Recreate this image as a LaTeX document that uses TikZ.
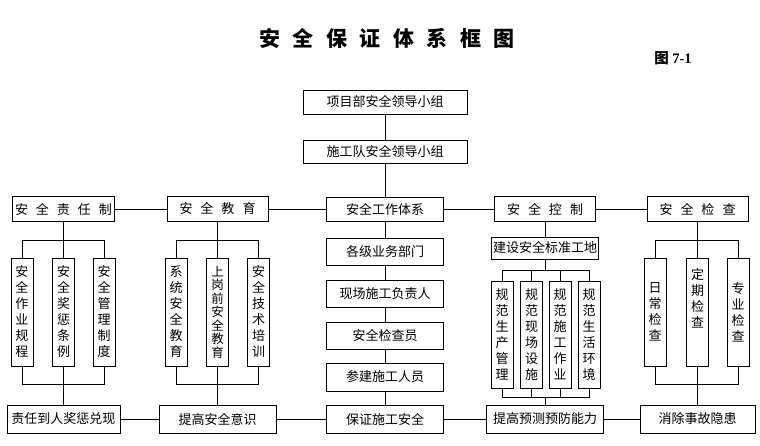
\documentclass[tikz,border=0pt]{standalone}
\usepackage{fontspec}
\setmainfont{Noto Sans CJK SC}
\newfontfamily\serifl{Liberation Serif}
\begin{document}
\begin{tikzpicture}[x=1pt,y=-1pt,
  line width=0.8pt,
  base/.style={draw,inner sep=0pt,font=\fontsize{13}{15}\selectfont},
  hbox/.style={base,minimum width=#1},
  vbox/.style={draw,inner sep=0pt,minimum width=22pt,minimum height=108pt,align=center,font=\fontsize{13}{16}\selectfont},
  vboxb/.style={vbox,minimum height=107pt},
  conn/.style={line width=0.8pt}
]
\useasboundingbox (0,0) rectangle (760,445);
\def\g{\hspace{8pt}}
\def\tg{\hspace{12.5pt}}
% title
\node (title) at (387,38) {\fontsize{21}{24}\selectfont\bfseries 安\tg 全\tg 保\tg 证\tg 体\tg 系\tg 框\tg 图};
\node (fig) at (673,58) {\fontsize{14.5}{16}\selectfont\bfseries 图 {\serifl\bfseries 7-1}};
% centre column
\node[hbox=164pt,minimum height=24pt] (t1) at (385,102) {项目部安全领导小组};
\node[hbox=164pt,minimum height=23pt] (t2) at (385,151.5) {施工队安全领导小组};
\node[hbox=117pt,minimum height=24pt] (m1) at (385,209) {安全工作体系};
\node[hbox=117pt,minimum height=27pt] (m2) at (385,251.5) {各级业务部门};
\node[hbox=117pt,minimum height=27pt] (m3) at (385,293.5) {现场施工负责人};
\node[hbox=117pt,minimum height=27pt] (m4) at (385,335.5) {安全检查员};
\node[hbox=117pt,minimum height=28pt] (m5) at (385,377) {参建施工人员};
\node[hbox=117pt,minimum height=28pt] (m6) at (385,419) {保证施工安全};
% row boxes
\node[hbox=102pt,minimum height=25pt] (r1) at (63.5,209) {安\g 全\g 责\g 任\g 制};
\node[hbox=101pt,minimum height=25pt] (r2) at (217.5,209) {安\g 全\g 教\g 育};
\node[hbox=101pt,minimum height=25pt] (r4) at (545,209) {安\g 全\g 控\g 制};
\node[hbox=101pt,minimum height=25pt] (r5) at (697.5,209) {安\g 全\g 检\g 查};
% bottom boxes
\node[hbox=113pt,minimum height=28pt] (b1) at (63.5,419) {责任到人奖惩兑现};
\node[hbox=117pt,minimum height=28pt] (b2) at (217.5,419) {提高安全意识};
\node[hbox=117pt,minimum height=28pt] (b4) at (545,419) {提高预测预防能力};
\node[hbox=115pt,minimum height=28pt] (b5) at (697.5,419) {消除事故隐患};
% column 1
\node[vbox] (c11) at (22,312) {安\\全\\作\\业\\规\\程};
\node[vbox] (c12) at (63.5,312) {安\\全\\奖\\惩\\条\\例};
\node[vbox] (c13) at (104,312) {安\\全\\管\\理\\制\\度};
% column 2
\node[vbox] (c21) at (176,312) {系\\统\\安\\全\\教\\育};
\node[vbox,font=\fontsize{12.5}{13.5}\selectfont] (c22) at (217.5,312) {上\\岗\\前\\安\\全\\教\\育};
\node[vbox] (c23) at (258.5,312) {安\\全\\技\\术\\培\\训};
% column 4
\node[hbox=107pt,minimum height=22pt] (c4) at (545,248) {建设安全标准工地};
\node[vboxb] (c41) at (502,334.5) {规\\范\\生\\产\\管\\理};
\node[vboxb] (c42) at (531.5,334.5) {规\\范\\现\\场\\设\\施};
\node[vboxb] (c43) at (560,334.5) {规\\范\\施\\工\\作\\业};
\node[vboxb] (c44) at (589,334.5) {规\\范\\生\\活\\环\\境};
% column 5
\node[vbox] (c51) at (655,312) {日\\常\\检\\查};
\node[vbox] (c52) at (697.5,312) {定\\期\\检\\查\\[12pt]};
\node[vbox] (c53) at (738,312) {专\\业\\检\\查};
% bracket levels
\coordinate (ya) at (0,240);
\coordinate (yb) at (0,384.5);
\coordinate (yc) at (0,270);
\coordinate (yd) at (0,397);
% centre chain
\draw[conn] (t1) -- (t2);
\draw[conn] (t2) -- (m1);
\draw[conn] (m1) -- (m2);
\draw[conn] (m2) -- (m3);
\draw[conn] (m3) -- (m4);
\draw[conn] (m4) -- (m5);
\draw[conn] (m5) -- (m6);
% row line
\draw[conn] (r1) -- (r2);
\draw[conn] (r2) -- (m1);
\draw[conn] (m1) -- (r4);
\draw[conn] (r4) -- (r5);
% bottom line
\draw[conn] (b1) -- (b2);
\draw[conn] (b2) -- (m6);
\draw[conn] (m6) -- (b4);
\draw[conn] (b4) -- (b5);
% column 1 brackets
\draw[conn] (r1.south) -- (r1.south |- ya);
\draw[conn] (c11.north) -- (c11.north |- ya) -- (c13.north |- ya) -- (c13.north);
\draw[conn] (c12.north) -- (c12.north |- ya);
\draw[conn] (c11.south) -- (c11.south |- yb) -- (c13.south |- yb) -- (c13.south);
\draw[conn] (c12.south) -- (b1.north);
% column 2 brackets
\draw[conn] (r2.south) -- (r2.south |- ya);
\draw[conn] (c21.north) -- (c21.north |- ya) -- (c23.north |- ya) -- (c23.north);
\draw[conn] (c22.north) -- (c22.north |- ya);
\draw[conn] (c21.south) -- (c21.south |- yb) -- (c23.south |- yb) -- (c23.south);
\draw[conn] (c22.south) -- (b2.north);
% column 4 brackets
\draw[conn] (r4) -- (c4);
\draw[conn] (c4.south) -- (c4.south |- yc);
\draw[conn] (c41.north) -- (c41.north |- yc) -- (c44.north |- yc) -- (c44.north);
\draw[conn] (c42.north) -- (c42.north |- yc);
\draw[conn] (c43.north) -- (c43.north |- yc);
\draw[conn] (c41.south) -- (c41.south |- yd) -- (c44.south |- yd) -- (c44.south);
\draw[conn] (c42.south) -- (c42.south |- yd);
\draw[conn] (c43.south) -- (c43.south |- yd);
\draw[conn] (b4.north |- yd) -- (b4.north);
% column 5 brackets
\draw[conn] (r5.south) -- (r5.south |- ya);
\draw[conn] (c51.north) -- (c51.north |- ya) -- (c53.north |- ya) -- (c53.north);
\draw[conn] (c52.north) -- (c52.north |- ya);
\draw[conn] (c51.south) -- (c51.south |- yb) -- (c53.south |- yb) -- (c53.south);
\draw[conn] (c52.south) -- (b5.north);
\end{tikzpicture}
\end{document}
